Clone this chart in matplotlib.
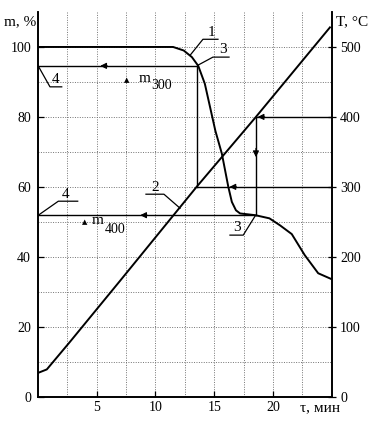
import numpy as np
import matplotlib
matplotlib.use('Agg')
import matplotlib.pyplot as plt

plt.rcParams['font.family'] = ['Liberation Serif', 'DejaVu Serif']

# кривая потери массы (1)
t_mass = [0.0, 11.5, 12.4, 13.1, 13.64, 14.2, 14.6, 15.1, 15.65, 16.2, 16.5,
          16.85, 17.2, 18.5, 19.7, 20.6, 21.6, 22.7, 23.85, 25.0]
m_mass = [100, 100, 99.0, 97.1, 94.6, 89.5, 83.5, 76.0, 69.5, 60.0, 55.7,
          53.3, 52.4, 51.9, 51.0, 49.0, 46.5, 40.5, 35.3, 33.6]

# температура (2)
t_temp = [0.0, 0.75, 2.7, 7.0, 13.5, 18.55, 24.85]
T_temp = [34, 39, 78, 166, 300, 400, 528]

m_ticks = [0, 20, 40, 60, 80, 100]
T_ticks = [0, 100, 200, 300, 400, 500]
t_ticks = [5, 10, 15, 20]

# построения
t300, T300, m300 = 13.5, 300, 94.6
t400, T400, m400 = 18.55, 400, 51.9

m_max, T_max, t_max = 110, 550, 25
k = m_max / T_max

W, H = 373, 422
fig = plt.figure(figsize=(W / 100, H / 100), dpi=100)
ax = fig.add_axes([38 / W, 1 - 396.7 / H, (331.7 - 38) / W, (396.7 - 12) / H])
ax2 = ax.twinx()

ax.set_xlim(0, t_max)
ax.set_ylim(0, m_max)
ax2.set_ylim(0, T_max)

# сетка
for x in np.arange(2.5, t_max, 2.5):
    ax.axvline(x, color='0.45', ls=(0, (1, 1.5)), lw=0.7, zorder=0)
for y in range(10, 110, 10):
    ax.axhline(y, color='0.45', ls=(0, (1, 1.5)), lw=0.7, zorder=0)

ax.plot(t_mass, m_mass, color='k', lw=1.4)
ax2.plot(t_temp, T_temp, color='k', lw=1.4)

lk = dict(color='k', lw=1.0)
ax.plot([0, t300], [m300, m300], **lk)
ax.plot([t300, t300], [T300 * k, m300], **lk)
ax2.plot([t300, t_max], [T300, T300], **lk)
ax2.plot([t400, t_max], [T400, T400], **lk)
ax.plot([t400, t400], [m400, T400 * k], **lk)
ax.plot([0, t400], [m400, m400], **lk)


def arrow(a, x, y, dx, dy):
    a.annotate('', xy=(x, y), xytext=(x + dx, y + dy),
               arrowprops=dict(arrowstyle='-|>', color='k', lw=0.8,
                               mutation_scale=9, shrinkA=0, shrinkB=0))


arrow(ax, 5.3, m300, 0.6, 0)
arrow(ax2, 16.3, T300, 0.6, 0)
arrow(ax2, 18.7, T400, 0.6, 0)
arrow(ax, t400, 68.5, 0, 2.5)
arrow(ax, 8.7, m400, 0.6, 0)

# выноски
ll = dict(color='k', lw=0.9)
fs = 11
ax.plot([12.94, 14.04, 15.32], [97.6, 102.2, 102.2], **ll)
ax.text(14.78, 102.4, '1', fontsize=fs, ha='center', va='bottom')
ax.plot([13.62, 14.89, 16.26], [94.8, 97.1, 97.1], **ll)
ax.text(15.77, 97.3, '3', fontsize=fs, ha='center', va='bottom')
ax.plot([0.03, 1.02, 2.02], [94.5, 88.6, 88.6], **ll)
ax.text(1.53, 88.8, '4', fontsize=fs, ha='center', va='bottom')
ax.plot([0.03, 1.73, 3.38], [51.9, 55.9, 55.9], **ll)
ax.text(2.38, 56.1, '4', fontsize=fs, ha='center', va='bottom')
ax.plot([9.19, 10.72, 12.09], [57.9, 57.9, 53.9], **ll)
ax.text(9.96, 58.1, '2', fontsize=fs, ha='center', va='bottom')
ax.plot([16.34, 17.47, 18.47], [46.2, 46.2, 51.6], **ll)
ax.text(16.9, 46.4, '3', fontsize=fs, ha='center', va='bottom')

# Δm300, Δm400
ax.text(7.57, 90.4, '▲', fontsize=5, ha='center', va='center',
        family='DejaVu Sans')
ax.text(8.55, 91.0, 'm', fontsize=fs, ha='left', va='center')
ax.text(9.6, 89.0, '300', fontsize=10, ha='left', va='center')
ax.text(4.0, 49.9, '▲', fontsize=5, ha='center', va='center',
        family='DejaVu Sans')
ax.text(4.55, 50.4, 'm', fontsize=fs, ha='left', va='center')
ax.text(5.65, 47.9, '400', fontsize=10, ha='left', va='center')

# оси
ax.set_xticks(t_ticks)
ax.set_yticks(m_ticks)
ax2.set_yticks(T_ticks)
ax.tick_params(axis='x', direction='in', length=4, width=0.9, pad=3,
               labelsize=10)
ax.tick_params(axis='y', direction='in', length=4, width=0.9, pad=5,
               labelsize=10)
ax2.tick_params(axis='y', direction='inout', length=6, width=0.9, pad=3,
                labelsize=10)
for a in (ax, ax2):
    a.spines['top'].set_visible(False)
    for s in ('left', 'right', 'bottom'):
        a.spines[s].set_linewidth(1.2)

fig.text(20 / W, 1 - 21.7 / H, 'm, %', fontsize=fs, ha='center', va='center')
fig.text(351.7 / W, 1 - 21.7 / H, 'T, °C', fontsize=fs, ha='center',
         va='center')
fig.text(320 / W, 1 - 408 / H, 'τ, мин', fontsize=fs, ha='center',
         va='center')

fig.savefig('out.png', dpi=100)
